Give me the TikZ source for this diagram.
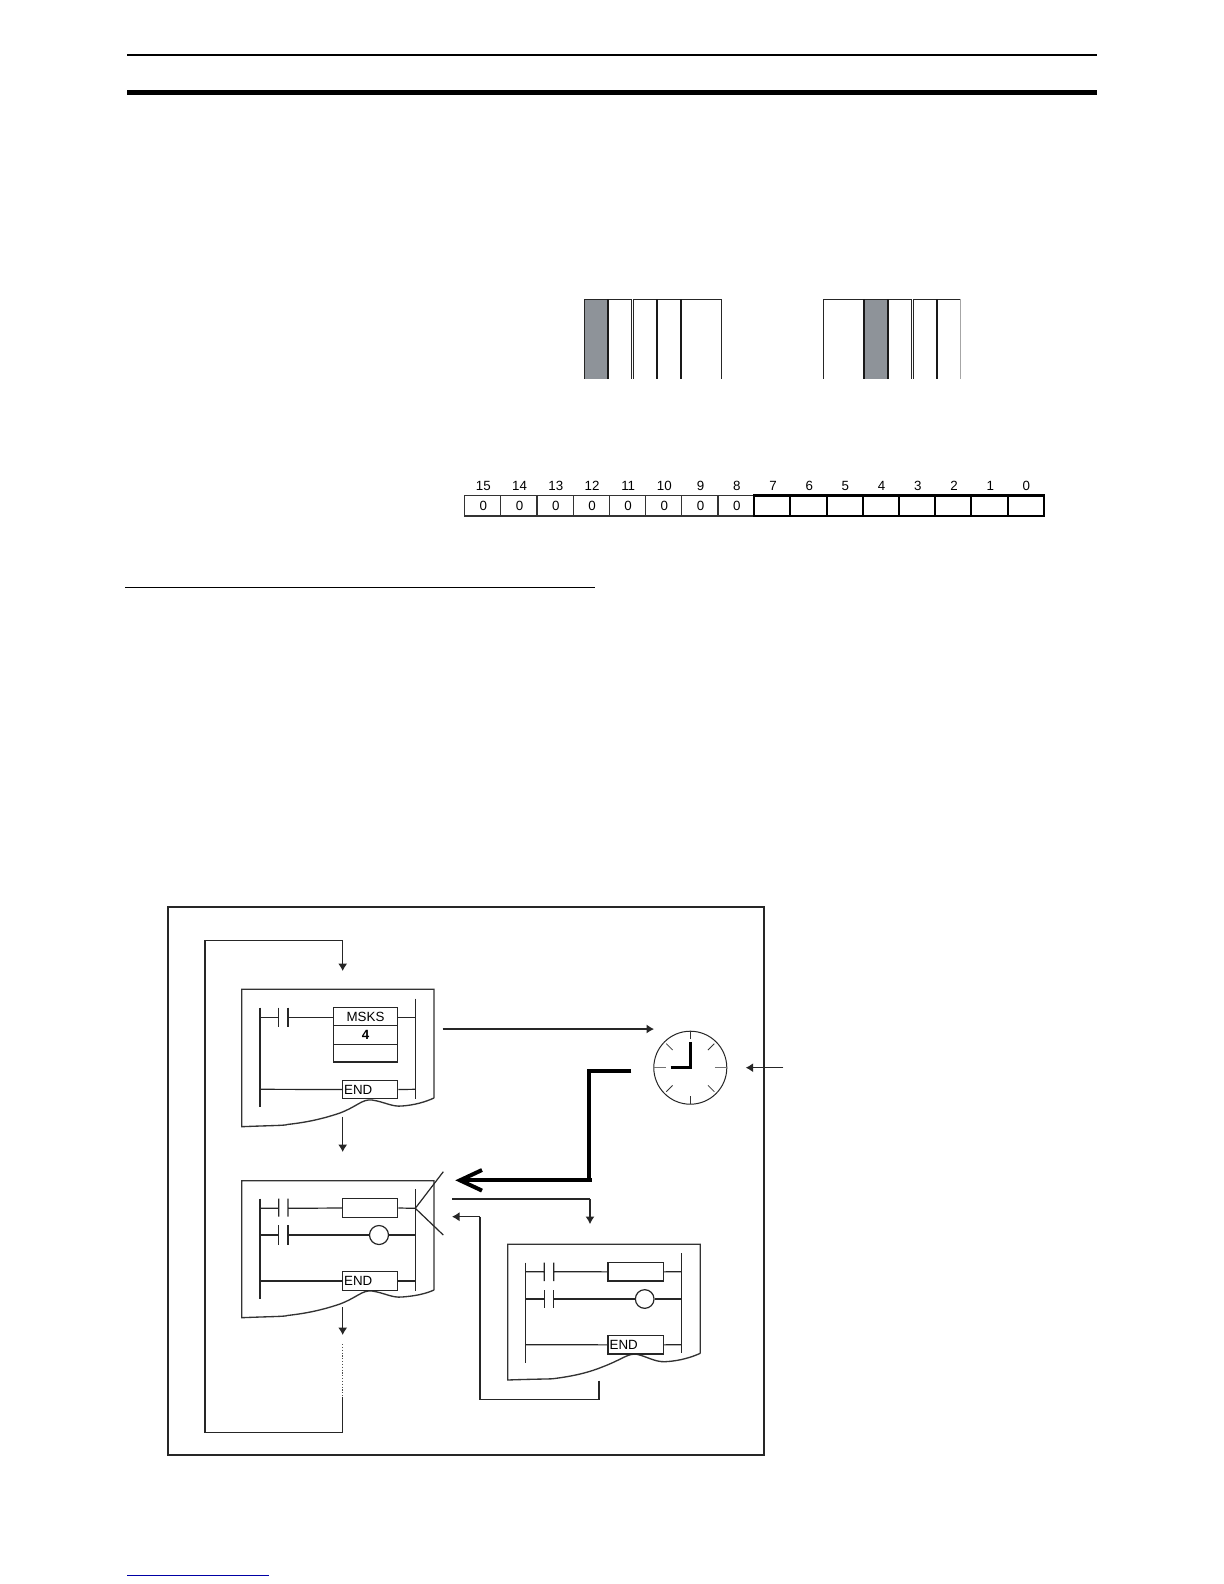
\documentclass[tikz,border=0pt]{standalone}
\usepackage{fontspec}
\setmainfont{Liberation Sans}
\usetikzlibrary{arrows.meta}
\definecolor{barfill}{RGB}{142,147,153}
\definecolor{linkblue}{RGB}{0,0,165}
\tikzset{
  thinl/.style={line width=0.72pt,black!85},
  frame/.style={line width=1.2pt,black!85},
  sheet/.style={line width=0.8pt,black!80},
  heavy/.style={line width=2.4pt,black},
  regl/.style={line width=0.7pt,black!80},
  regh/.style={line width=1.3pt,black},
  arr/.style={thinl,-{Latex[length=4.5pt,width=5.5pt]}},
  lbox/.style={draw,thinl,fill=white,inner sep=0pt,font=\fontsize{8}{9}\selectfont,text=black},
  regtxt/.style={inner sep=0pt,font=\fontsize{8}{9}\selectfont},
  barl/.style={line width=0.7pt,black!85},
  barh/.style={line width=1.3pt,black!90}
}
% box between pixel corners: name, x1, y1, x2, y2, options, text
\newcommand{\rbox}[7]{\node[lbox,#6,minimum width={((#4)-(#2))*0.6pt},minimum height={((#5)-(#3))*0.6pt}] (#1) at ({((#2)+(#4))/2},{((#3)+(#5))/2}) {#7};}
\begin{document}
\begin{tikzpicture}[x=0.6pt,y=-0.6pt]
\useasboundingbox (0,0) rectangle (1224,1584);
\fill[white] (0,0) rectangle (1224,1584);
% page rules
\draw[line width=1.2pt] (127,55) -- (1097,55);
\draw[line width=3pt] (127,92.3) -- (1097,92.3);
\draw[line width=0.6pt] (125,587.3) -- (595,587.3);
\draw[line width=0.75pt,linkblue] (127,1575.3) -- (269,1575.3);
% bar strips
\fill[barfill] (584.3,299.3) rectangle (608,378.7);
\fill[barfill] (864,299.3) rectangle (888,378.7);
\draw[barl] (584.3,378.7) -- (584.3,299.3) -- (631.7,299.3) -- (631.7,378.7);
\draw[barl] (633.3,378.7) -- (633.3,299.3) -- (721.7,299.3) -- (721.7,378.7);
\draw[barh] (608,299.3) -- (608,378.7);
\draw[barh] (657,299.3) -- (657,378.7);
\draw[barh] (681,299.3) -- (681,378.7);
\draw[barl] (823.3,378.7) -- (823.3,299.3) -- (911.7,299.3) -- (911.7,378.7);
\draw[barl] (913.3,378.7) -- (913.3,299.3) -- (960,299.3);
\draw[line width=0.6pt,black!35] (960,299.3) -- (960,378.7);
\draw[barh] (864,299.3) -- (864,378.7);
\draw[barh] (888,299.3) -- (888,378.7);
\draw[barh] (937,299.3) -- (937,378.7);
% register
\foreach \b [evaluate=\b as \xl using 464.6+(15-\b)*36.2] in {15,14,...,8}{
  \draw[regl] (\xl,495.5) rectangle (\xl+36.2,516);
  \node[regtxt] (bit\b) at (\xl+18.8,486) {\b};
  \node[regtxt] (val\b) at (\xl+18.8,506) {0};
}
\foreach \b [evaluate=\b as \xl using 464.6+(15-\b)*36.2] in {7,6,...,0}{
  \draw[regh] (\xl,495.5) rectangle (\xl+36.2,516);
  \node[regtxt] (bit\b) at (\xl+18.8,486) {\b};
}
% outer frame
\draw[frame] (167.7,906.7) rectangle (764,1454.7);
% ladder sheet 1
\draw[sheet] (434,1098) -- (434,989.3) -- (241.7,989.3) -- (241.7,1126.7)
  .. controls (270,1125.5) and (287,1125.5) .. (287,1124.5)
  .. controls (310,1122) and (325,1118) .. (340,1113)
  .. controls (358,1106) and (362,1099) .. (372,1100)
  .. controls (385,1102) and (392,1107) .. (402,1106)
  .. controls (415,1105) and (425,1102) .. (434,1098);
\draw[thinl] (260,1007.7) -- (260,1107);
\draw[thinl] (415.3,998.7) -- (415.3,1098.7);
\rbox{msks}{333.3}{1007.7}{397.7}{1025.7}{}{MSKS}
\rbox{mskn}{333.3}{1025.7}{397.7}{1044.3}{font=\fontsize{8}{9}\selectfont\bfseries}{4}
\rbox{mske}{333.3}{1044.3}{397.7}{1062}{}{}
\rbox{enda}{342.7}{1080.3}{397.7}{1098.7}{align=left,text width=52pt*0.6,}{END}
\draw[thinl] (260,1017.3) -- (278.7,1017.3) (278.7,1007.7) -- (278.7,1026.7) (288,1007.7) -- (288,1026.7) (288,1017.3) -- (msks.west |- 0,1017.3);
\draw[thinl] (msks.east |- 0,1017.3) -- (415.3,1017.3);
\draw[thinl] (260,1089.3) -- (enda.west);
\draw[thinl] (enda.east) -- (415.3,1089.3);
% ladder sheet 2
\draw[sheet] (434,1290) -- (434,1180.7) -- (241.7,1180.7) -- (241.7,1317.7)
  .. controls (270,1316.5) and (287,1316.5) .. (287,1315.5)
  .. controls (310,1313) and (325,1309) .. (340,1304)
  .. controls (358,1297) and (362,1290) .. (372,1291)
  .. controls (385,1293) and (392,1298) .. (402,1297)
  .. controls (415,1296) and (425,1294) .. (434,1290);
\draw[thinl] (260,1198.7) -- (260,1298.7);
\draw[thinl] (415.3,1189.3) -- (415.3,1290.7);
\rbox{boxb}{342.7}{1198.7}{397.7}{1217.3}{}{}
\rbox{endb}{342.7}{1271.7}{397.7}{1290.3}{align=left,text width=52pt*0.6,}{END}
\node[draw,thinl,circle,inner sep=0pt,minimum size=11.4pt] (cb) at (379,1235) {};
\draw[thinl] (260,1208.3) -- (278.7,1208.3) (278.7,1198.7) -- (278.7,1216.7) (288,1198.7) -- (288,1216.7) (288,1208.3) -- (boxb.west);
\draw[thinl] (boxb.east) -- (415.3,1208.3);
\draw[thinl] (260,1235) -- (278.7,1235) (278.7,1225.3) -- (278.7,1244.7) (288,1225.3) -- (288,1244.7) (288,1235) -- (cb.west);
\draw[thinl] (cb.east) -- (415.3,1235);
\draw[thinl] (260,1281) -- (endb.west);
\draw[thinl] (endb.east) -- (415.3,1281);
\draw[thinl] (443.3,1171.7) -- (415.3,1208.3) -- (443.3,1235);
% ladder sheet 3
\draw[sheet] (700.3,1353.3) -- (700.3,1244.3) -- (507.7,1244.3) -- (507.7,1380)
  .. controls (535,1379) and (552,1379) .. (553,1378.7)
  .. controls (575,1376) and (590,1372) .. (603,1366.7)
  .. controls (623,1359) and (628,1353) .. (637,1354.3)
  .. controls (648,1357) and (655,1362) .. (665,1361.7)
  .. controls (680,1361) and (692,1357) .. (700.3,1353.3);
\draw[thinl] (525.7,1262.7) -- (525.7,1362.7);
\draw[thinl] (681.7,1253.3) -- (681.7,1353.3);
\rbox{boxc}{608}{1262.7}{663.3}{1281}{}{}
\rbox{endc}{608}{1335.7}{663.3}{1354}{align=left,text width=52pt*0.6,}{END}
\node[draw,thinl,circle,inner sep=0pt,minimum size=11.2pt] (cc) at (644.7,1299) {};
\draw[thinl] (525.7,1271.7) -- (544.3,1271.7) (544.3,1262.7) -- (544.3,1281) (553.7,1262.7) -- (553.7,1281) (553.7,1271.7) -- (boxc.west);
\draw[thinl] (boxc.east) -- (681.7,1271.7);
\draw[thinl] (525.7,1299) -- (544.3,1299) (544.3,1290.3) -- (544.3,1308) (553.7,1290.3) -- (553.7,1308) (553.7,1299) -- (cc.west);
\draw[thinl] (cc.east) -- (681.7,1299);
\draw[thinl] (525.7,1344.7) -- (endc.west);
\draw[thinl] (endc.east) -- (681.7,1344.7);
% clock
\node[draw,line width=0.6pt,black!85,circle,inner sep=0pt,minimum size=43.8pt] (clock) at (690.3,1067.7) {};
\draw[line width=0.8pt,black!55] (clock.center) ++(0:24.5) -- ++(0:12);
\draw[line width=0.8pt,black!55] (clock.center) ++(180:24.5) -- ++(180:12);
\draw[line width=0.5pt,black!80] (clock.center) ++(90:28.5) -- ++(90:8);
\draw[line width=0.5pt,black!80] (clock.center) ++(270:28.5) -- ++(270:8);
\foreach \a in {45,135,225,315}{
  \draw[line width=0.5pt,black!80] (clock.center) ++(\a:25) -- ++(\a:9);
}
\draw[line width=1.9pt,line join=miter] (670.7,1067.7) -- (clock.center) -- (690.3,1042.3);
% loop and arrows
\coordinate (la) at (342.7,1116.7);
\coordinate (lb) at (342.7,1152);
\coordinate (lc) at (342.7,1307.3);
\coordinate (ld) at (342.7,1335);
\coordinate (le) at (342.7,1344);
\coordinate (lf) at (342.7,1396.7);
\coordinate (lg) at (342.7,1432.3);
\coordinate (lh) at (205,1432.3);
\coordinate (li) at (205,940.3);
\coordinate (lj) at (342.7,940.3);
\coordinate (lk) at (342.7,971);
\draw[thinl] (lf) -- (lg) -- (lh) -- (li) -- (lj);
\draw[arr] (lj) -- (lk);
\draw[arr] (la) -- (lb);
\draw[arr] (lc) -- (ld);
\draw[line width=0.7pt,black!70,densely dotted] (le) -- (lf);
\coordinate (ma) at (442.7,1029);
\draw[arr] (ma) -- (654,1029);
\coordinate (mb) at (783.3,1067.7);
\draw[arr] (mb) -- (745.7,1067.7);
\coordinate (tk) at (631.3,1070.7);
\coordinate (tl) at (588.7,1070.7);
\coordinate (tm) at (588.7,1180.3);
\coordinate (tn) at (591.7,1180.3);
\coordinate (to) at (460,1180.3);
\draw[heavy] (tk) -- (tl) -- (tm);
\draw[heavy] (tn) -- (to);
\draw[heavy,line join=miter] (482,1170) -- (to) -- (482,1190.6);
\coordinate (na) at (452,1199);
\coordinate (nb) at (590,1199);
\coordinate (nc) at (590,1224);
\draw[thinl] (na) -- (nb);
\draw[arr] (nb) -- (nc);
\coordinate (oa) at (599,1380.7);
\coordinate (ob) at (599,1399.3);
\coordinate (oc) at (480,1399.3);
\coordinate (od) at (480,1216.7);
\coordinate (oe) at (452,1216.7);
\draw[thinl] (oa) -- (ob) -- (oc) -- (od);
\draw[arr] (od) -- (oe);
\end{tikzpicture}
\end{document}
